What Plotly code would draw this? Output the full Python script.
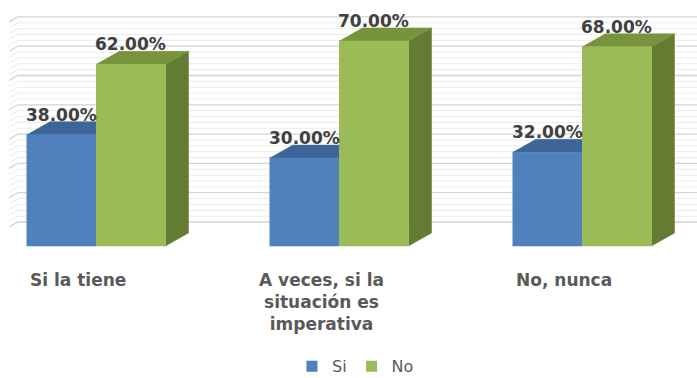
import plotly.graph_objects as go

# Survey answers and the share of "Si" / "No" for each
categories = ["Si la tiene", "A veces, si la<br>situación es<br>imperativa", "No, nunca"]
si_values = [38, 30, 32]
no_values = [62, 70, 68]
series_names = ["Si", "No"]

# Back-wall gridlines (percent)
major_ticks = list(range(0, 71, 10))
minor_ticks = [v for v in range(0, 71, 2) if v % 10]

W, H = 697, 378
PX_X = 243.0          # pixels per category step
PX_Y = 2.93           # pixels per percentage point
ORIGIN_X, ORIGIN_Y = 96, 246

BW = 69.5 / PX_X      # bar width
DX = 23 / PX_X        # oblique depth of a bar
DY = 13 / PX_Y
WALL_DY = 24 / PX_Y   # back wall sits further behind the bars
WALL_X0 = 18 / PX_X - ORIGIN_X / PX_X
SIDE_DX = 9 / PX_X
SIDE_DY = 5 / PX_Y

x_range = [-ORIGIN_X / PX_X, (W - ORIGIN_X) / PX_X]
y_range = [-(H - ORIGIN_Y) / PX_Y, ORIGIN_Y / PX_Y]

colors = {
    "Si": {"front": "#4F81BD", "top": "#3D6598", "side": "#365A87"},
    "No": {"front": "#9BBB59", "top": "#77933C", "side": "#647B32"},
}

fig = go.Figure()

# gridlines on the back wall, with the short slant of the side wall
for ticks, color, width in ((minor_ticks, "#EBEBEB", 1), (major_ticks, "#D4D4D4", 1.3)):
    xs, ys = [], []
    for v in ticks:
        yv = v + WALL_DY
        xs += [WALL_X0 - SIDE_DX, WALL_X0, x_range[1], None]
        ys += [yv - SIDE_DY, yv, yv, None]
    fig.add_trace(go.Scatter(x=xs, y=ys, mode="lines", hoverinfo="skip",
                             line=dict(color=color, width=width), showlegend=False))


def add_box(x_left, value, name):
    c = colors[name]
    xr = x_left + BW
    faces = [
        ("side", [xr, xr + DX, xr + DX, xr], [0, DY, value + DY, value]),
        ("top", [x_left, xr, xr + DX, x_left + DX], [value, value, value + DY, value + DY]),
        ("front", [x_left, xr, xr, x_left], [0, 0, value, value]),
    ]
    for face, xs, ys in faces:
        fig.add_trace(go.Scatter(
            x=xs, y=ys, fill="toself", fillcolor=c[face], mode="lines",
            line=dict(color=c[face], width=0.5), hoverinfo="skip", showlegend=False))


for i, (s, n) in enumerate(zip(si_values, no_values)):
    add_box(i - BW, s, "Si")
    add_box(i, n, "No")
    for x_left, v in ((i - BW, s), (i, n)):
        fig.add_annotation(
            x=x_left + BW / 2, y=v + DY, yshift=7, yanchor="middle", showarrow=False,
            text=f"{v:.2f}%",
            font=dict(family="DejaVu Sans", size=17, color="#404040", weight="bold"))
    fig.add_annotation(
        x=i - 18 / PX_X, xanchor="center", y=1 - 268 / H, yref="paper", yanchor="top",
        showarrow=False, text=categories[i], align="center",
        font=dict(family="DejaVu Sans", size=17, color="#595959", weight="bold"))

# legend entries
for name in series_names:
    fig.add_trace(go.Scatter(
        x=[None], y=[None], mode="markers", name=name,
        marker=dict(symbol="square", size=11, color=colors[name]["front"])))

fig.update_layout(
    width=W, height=H,
    margin=dict(l=0, r=0, t=0, b=0, autoexpand=False),
    paper_bgcolor="white", plot_bgcolor="white",
    xaxis=dict(range=x_range, visible=False, fixedrange=True),
    yaxis=dict(range=y_range, visible=False, fixedrange=True),
    showlegend=True,
    legend=dict(orientation="h", x=0.51, xanchor="center", y=-0.014, yanchor="bottom",
                font=dict(family="DejaVu Sans", size=16, color="#595959"),
                itemwidth=30, bgcolor="rgba(0,0,0,0)"),
)

fig.write_html("out.html")
